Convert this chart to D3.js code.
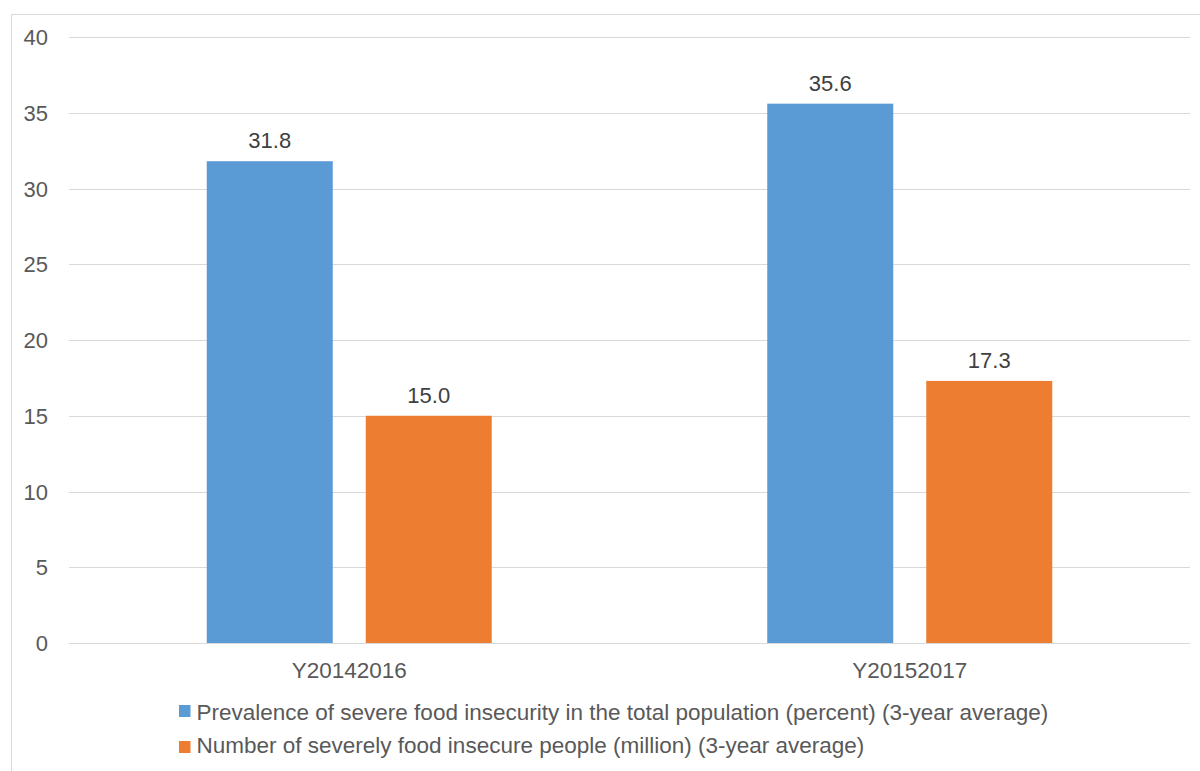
<!DOCTYPE html>
<html>
<head>
<meta charset="utf-8">
<script src="https://cdn.jsdelivr.net/npm/d3@7"></script>
<style>
  html, body { margin: 0; padding: 0; background: #fff; }
  svg { display: block; font-family: "Liberation Sans", Arial, sans-serif; }
</style>
</head>
<body>
<svg id="chart" width="1200" height="771"></svg>
<script>
// Categories (3-year periods) and the two series
const categories = ["Y20142016", "Y20152017"];
const seriesNames = [
  "Prevalence of severe food insecurity in the total population (percent) (3-year average)",
  "Number of severely food insecure people (million) (3-year average)"
];
const prevalence = [31.8, 35.6];
const insecurePeople = [15.0, 17.3];
const yTicks = [0, 5, 10, 15, 20, 25, 30, 35, 40];
const seriesColors = ["#5B9BD5", "#ED7D31"];

const rows = categories.map((c, i) => ({
  category: c,
  values: [prevalence[i], insecurePeople[i]]
}));

const svg = d3.select("#chart");

// Outer frame
svg.append("rect")
  .attr("x", 11.5).attr("y", 14.5)
  .attr("width", 1220).attr("height", 800)
  .attr("fill", "none").attr("stroke", "#D9D9D9").attr("stroke-width", 1);

const plotLeft = 69, plotRight = 1190, plotTop = 37, plotBottom = 643;

const y = d3.scaleLinear().domain([0, 40]).range([plotBottom, plotTop]);

const groupFrac = 285 / 560.5;
const x0 = d3.scaleBand().domain(categories).range([plotLeft, plotRight])
  .paddingInner(1 - groupFrac).paddingOuter((1 - groupFrac) / 2);
const x1 = d3.scaleBand().domain(d3.range(seriesNames.length))
  .range([0, x0.bandwidth()]).paddingInner(0.2075);

// Gridlines
svg.append("g")
  .selectAll("line").data(yTicks).join("line")
  .attr("x1", plotLeft).attr("x2", plotRight)
  .attr("y1", d => Math.round(y(d)) + 0.5).attr("y2", d => Math.round(y(d)) + 0.5)
  .attr("stroke", "#D9D9D9").attr("stroke-width", 1);

// Y axis labels
const yAxis = d3.axisLeft(y).tickValues(yTicks).tickSize(0).tickPadding(0);
const yg = svg.append("g").attr("transform", `translate(48,0)`).call(yAxis);
yg.select(".domain").remove();
yg.selectAll("text")
  .attr("font-size", 22).attr("fill", "#595959")
  .attr("font-family", "Liberation Sans, Arial, sans-serif")
  .attr("dy", "0.35em");

// Bars
const groups = svg.append("g").selectAll("g").data(rows).join("g")
  .attr("transform", d => `translate(${x0(d.category)},0)`);

groups.selectAll("rect").data(d => d.values.map((v, i) => ({ v, i }))).join("rect")
  .attr("x", d => x1(d.i))
  .attr("width", x1.bandwidth())
  .attr("y", d => y(d.v))
  .attr("height", d => y(0) - y(d.v))
  .attr("fill", d => seriesColors[d.i]);

// Value labels
groups.selectAll("text").data(d => d.values.map((v, i) => ({ v, i }))).join("text")
  .attr("x", d => x1(d.i) + x1.bandwidth() / 2)
  .attr("y", d => y(d.v) - 13)
  .attr("text-anchor", "middle")
  .attr("font-size", 22).attr("fill", "#404040")
  .text(d => d.v.toFixed(1));

// Category axis
const xAxis = d3.axisBottom(x0).tickSize(0).tickPadding(0);
const xg = svg.append("g").attr("transform", `translate(0,${plotBottom})`).call(xAxis);
xg.select(".domain").remove();
xg.selectAll("text")
  .attr("font-size", 22.5).attr("fill", "#595959")
  .attr("font-family", "Liberation Sans, Arial, sans-serif")
  .attr("dy", null).attr("y", 35);

// Legend
const legend = svg.append("g").selectAll("g").data(seriesNames).join("g")
  .attr("transform", (d, i) => `translate(179,${705 + i * 36})`);
legend.append("rect").attr("width", 11.5).attr("height", 12)
  .attr("fill", (d, i) => seriesColors[i]);
legend.append("text")
  .attr("x", 17.5).attr("y", (d, i) => 14.5 - i * 3)
  .attr("font-size", 22.5).attr("fill", "#595959")
  .text(d => d);
</script>
</body>
</html>
